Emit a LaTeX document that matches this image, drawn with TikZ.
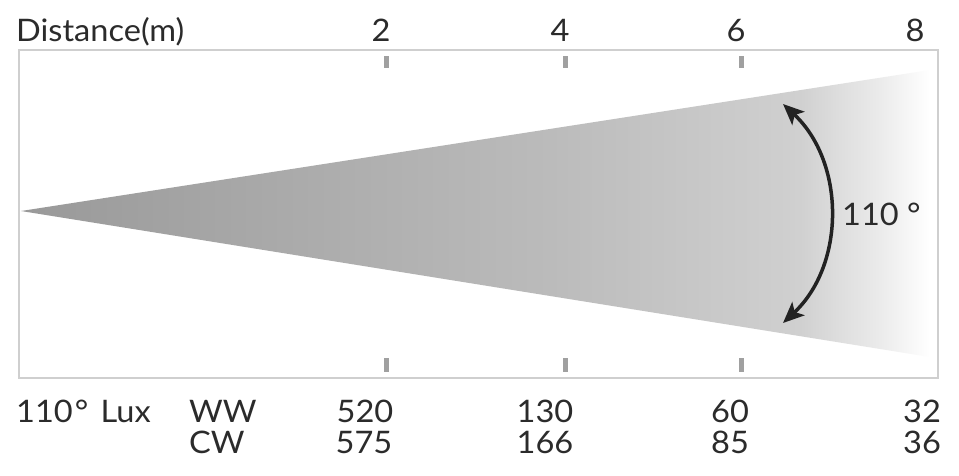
\documentclass[tikz,border=0pt]{standalone}
\usepackage{fontspec}
\setmainfont{Lato}[FakeStretch=1.05]
\usetikzlibrary{arrows.meta}
\definecolor{labelgray}{HTML}{2B2B2B}
\definecolor{framegray}{HTML}{CFCFCF}
\definecolor{tickgray}{HTML}{A0A0A0}
\definecolor{arcblack}{HTML}{222222}
\definecolor{beamA}{HTML}{999999}
\definecolor{beamB}{HTML}{ABABAB}
\definecolor{beamC}{HTML}{BBBBBB}
\definecolor{beamD}{HTML}{D0D0D0}
\definecolor{beamE}{HTML}{DEDEDE}
\definecolor{beamF}{HTML}{EBEBEB}
\pgfdeclarehorizontalshading{beam}{100bp}{color(0bp)=(beamA); color(25bp)=(beamA); color(40.35bp)=(beamB); color(54.1bp)=(beamC); color(67.85bp)=(beamD); color(70.05bp)=(beamE); color(72.25bp)=(beamF); color(75bp)=(white); color(100bp)=(white)}
\begin{document}
\begin{tikzpicture}[x=1pt,y=1pt]
\tikzstyle{every node}+=[inner sep=0pt, text=labelgray, font=\fontsize{31}{37}\selectfont]
\tikzstyle{tick}=[tickgray, line width=5pt]
\useasboundingbox (0,0) rectangle (959,-475);
\fill [white] (0,0) rectangle (959,-475);
\coordinate (apex) at (21,-211);
\coordinate (rimtop) at (930,-70);
\coordinate (rimbot) at (930,-357);
\shade [shading=beam] (apex) -- (rimtop) -- (rimbot) -- cycle;
\draw [framegray, line width=2pt] (19,-50) rectangle (938,-378);
\draw [tick] (386,-56) -- (386,-68);
\draw [tick] (565,-56) -- (565,-68);
\draw [tick] (741,-56) -- (741,-68);
\draw [tick] (386,-358) -- (386,-372);
\draw [tick] (565,-358) -- (565,-372);
\draw [tick] (741,-358) -- (741,-372);
\coordinate (arctop) at (783,-104);
\coordinate (arcbot) at (783,-323);
\draw [arcblack, line width=3.5pt, {Stealth[length=21pt,width=18pt,inset=5pt]}-{Stealth[length=21pt,width=18pt,inset=5pt]}] (arctop) to [bend left=47] (arcbot);
\node (angle) at (842,-225) [anchor=base west] {110 °};
\node (dist) at (16,-41) [anchor=base west] {Distance(m)};
\node (m2) at (381,-41) [anchor=base] {2};
\node (m4) at (560,-41) [anchor=base] {4};
\node (m6) at (736,-41) [anchor=base] {6};
\node (m8) at (915,-41) [anchor=base] {8};
\node (lux) at (16,-422) [anchor=base west] {110\kern2pt°\hspace{4pt} Lux};
\node (ww) at (189,-422) [anchor=base west] {WW};
\node (cw) at (189,-453) [anchor=base west] {CW};
\node (ww2) at (365,-422) [anchor=base] {520};
\node (ww4) at (545,-422) [anchor=base] {130};
\node (ww6) at (730,-422) [anchor=base] {60};
\node (ww8) at (922,-422) [anchor=base] {32};
\node (cw2) at (364,-453) [anchor=base] {575};
\node (cw4) at (545,-453) [anchor=base] {166};
\node (cw6) at (730,-453) [anchor=base] {85};
\node (cw8) at (922,-453) [anchor=base] {36};
\end{tikzpicture}
\end{document}
